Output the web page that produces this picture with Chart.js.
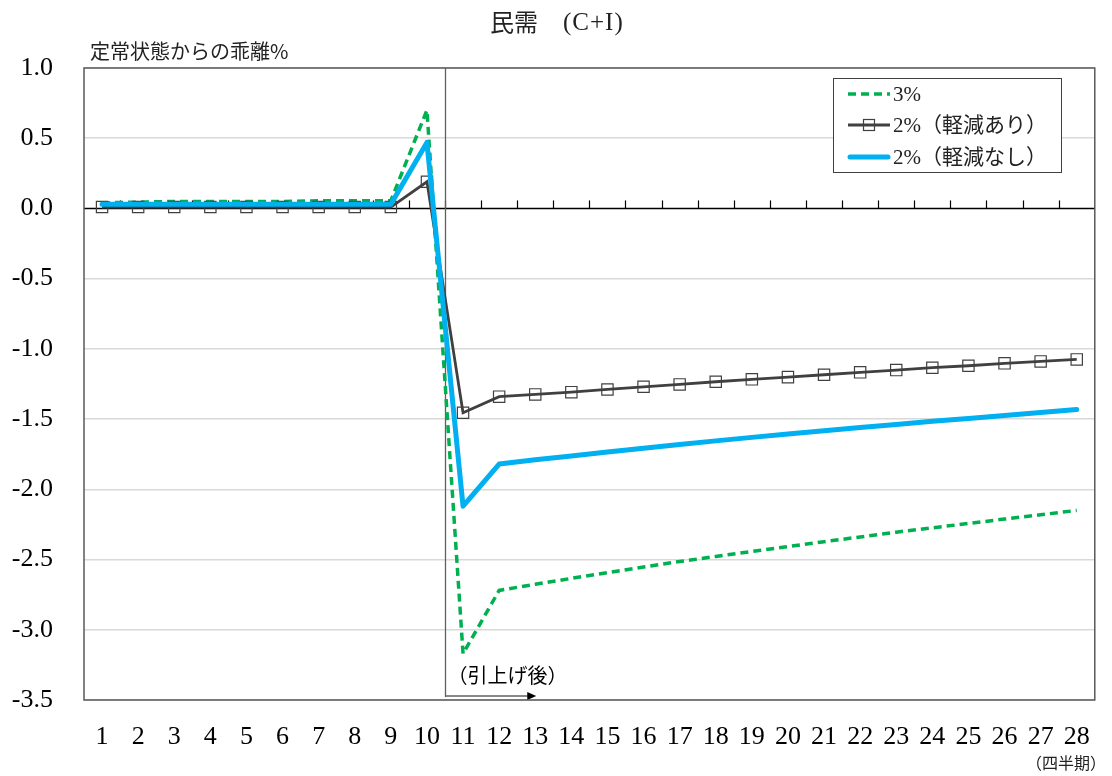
<!DOCTYPE html>
<html>
<head>
<meta charset="utf-8">
<script src="https://cdn.jsdelivr.net/npm/chart.js@4/dist/chart.umd.min.js"></script>
<style>
  html, body { margin: 0; padding: 0; background: #ffffff; }
  #wrap { width: 1112px; height: 776px; position: relative; }
</style>
</head>
<body>
<div id="wrap"><canvas id="c" width="1112" height="776"></canvas></div>
<script>
// 四半期（1〜28）
const quarters = ['1','2','3','4','5','6','7','8','9','10','11','12','13','14',
                  '15','16','17','18','19','20','21','22','23','24','25','26','27','28'];

// 縦軸の範囲と目盛り（定常状態からの乖離%）
const yMin = -3.5;
const yMax = 1.0;
const yStep = 0.5;

// 系列名
const seriesNames = ['3%', '2%（軽減あり）', '2%（軽減なし）'];

// 税率3%引上げ
const rate3 = [0.04, 0.045, 0.05, 0.05, 0.05, 0.05, 0.055, 0.055, 0.055, 0.70,
               -3.17, -2.72, -2.676, -2.634, -2.593, -2.553, -2.514, -2.478, -2.443,
               -2.408, -2.373, -2.339, -2.305, -2.274, -2.243, -2.212, -2.181, -2.150];

// 税率2%引上げ（軽減あり）
const rate2Relief = [0.01, 0.01, 0.01, 0.01, 0.01, 0.01, 0.01, 0.01, 0.01, 0.19,
                     -1.455, -1.34, -1.324, -1.308, -1.289, -1.27, -1.253, -1.234, -1.217,
                     -1.201, -1.184, -1.167, -1.151, -1.134, -1.12, -1.103, -1.089, -1.075];

// 税率2%引上げ（軽減なし）
const rate2NoRelief = [0.03, 0.03, 0.03, 0.03, 0.03, 0.03, 0.03, 0.03, 0.03, 0.47,
                       -2.12, -1.82, -1.79, -1.762, -1.734, -1.707, -1.68, -1.655, -1.63,
                       -1.606, -1.583, -1.56, -1.538, -1.516, -1.495, -1.474, -1.453, -1.432];

const COLORS = { green: '#00B050', dark: '#404040', blue: '#00B0F0', grid: '#D9D9D9', frame: '#595959' };
const SERIF = '"Liberation Serif", "Noto Sans CJK JP", serif';
const GOTHIC = '"Noto Sans CJK JP", sans-serif';

// 軸の補助線・枠・注記・凡例
const decorations = {
  id: 'decorations',
  beforeDatasetsDraw(chart) {
    const { ctx, chartArea: a, scales: { x, y } } = chart;
    const y0 = y.getPixelForValue(0);
    ctx.save();
    // ゼロ線
    ctx.strokeStyle = '#000000';
    ctx.lineWidth = 1.5;
    ctx.beginPath();
    ctx.moveTo(a.left, y0);
    ctx.lineTo(a.right, y0);
    ctx.stroke();
    // 四半期の区切り目盛り
    ctx.lineWidth = 1.2;
    const band = (x.getPixelForValue(1) - x.getPixelForValue(0));
    for (let i = 1; i < quarters.length; i++) {
      const px = Math.round(x.getPixelForValue(i) - band / 2) + 0.5;
      ctx.beginPath();
      ctx.moveTo(px, y0);
      ctx.lineTo(px, y0 - 8);
      ctx.stroke();
    }
    // 引上げ時点の縦線（10期と11期の間）
    const xv = Math.round((x.getPixelForValue(9) + x.getPixelForValue(10)) / 2) + 0.5;
    ctx.strokeStyle = '#606060';
    ctx.lineWidth = 1.3;
    ctx.beginPath();
    ctx.moveTo(xv, a.top);
    ctx.lineTo(xv, a.bottom - 3);
    ctx.stroke();
    // 引上げ後を示す矢印
    const xa = x.getPixelForValue(12) + 1;
    const ya = a.bottom - 4;
    ctx.beginPath();
    ctx.moveTo(xv, ya);
    ctx.lineTo(xa - 8, ya);
    ctx.stroke();
    ctx.fillStyle = '#000000';
    ctx.beginPath();
    ctx.moveTo(xa, ya);
    ctx.lineTo(xa - 9, ya - 4);
    ctx.lineTo(xa - 9, ya + 4);
    ctx.closePath();
    ctx.fill();
    ctx.font = '20px ' + GOTHIC;
    ctx.textAlign = 'left';
    ctx.textBaseline = 'middle';
    ctx.fillText('（引上げ後）', xv + 2, a.bottom - 25);
    ctx.restore();
  },
  afterDatasetsDraw(chart) {
    const { ctx, chartArea: a } = chart;
    ctx.save();
    // プロット領域の枠
    ctx.strokeStyle = COLORS.frame;
    ctx.lineWidth = 1.5;
    ctx.strokeRect(a.left, a.top, a.right - a.left, a.bottom - a.top);

    // 凡例
    const bx = 833.5, by = 78.5, bw = 228, bh = 94;
    ctx.fillStyle = '#ffffff';
    ctx.fillRect(bx, by, bw, bh);
    ctx.strokeStyle = '#404040';
    ctx.lineWidth = 1;
    ctx.strokeRect(bx, by, bw, bh);
    const rows = [94, 125, 157];
    const sx0 = 848, sx1 = 890;
    ctx.lineCap = 'butt';
    // 3%
    ctx.strokeStyle = COLORS.green;
    ctx.lineWidth = 3.5;
    ctx.setLineDash([8, 5]);
    ctx.beginPath(); ctx.moveTo(sx0, rows[0]); ctx.lineTo(sx1, rows[0]); ctx.stroke();
    ctx.setLineDash([]);
    // 2%（軽減あり）
    ctx.strokeStyle = COLORS.dark;
    ctx.lineWidth = 2.8;
    ctx.beginPath(); ctx.moveTo(sx0, rows[1]); ctx.lineTo(sx1, rows[1]); ctx.stroke();
    ctx.lineWidth = 1.2;
    ctx.strokeRect(869 - 5.5, rows[1] - 5.5, 11, 11);
    // 2%（軽減なし）
    ctx.strokeStyle = COLORS.blue;
    ctx.lineWidth = 5;
    ctx.lineCap = 'round';
    ctx.beginPath(); ctx.moveTo(sx0 + 2, rows[2]); ctx.lineTo(sx1 - 2, rows[2]); ctx.stroke();

    ctx.fillStyle = '#222222';
    ctx.font = '21px ' + SERIF;
    ctx.textAlign = 'left';
    ctx.textBaseline = 'middle';
    seriesNames.forEach((n, i) => ctx.fillText(n, 893, rows[i] + 1));
    ctx.restore();
  },
  afterDraw(chart) {
    const { ctx } = chart;
    ctx.save();
    ctx.fillStyle = '#222222';
    ctx.textBaseline = 'middle';
    // タイトル
    ctx.textAlign = 'left';
    ctx.font = '24px ' + GOTHIC;
    ctx.fillText('民需', 490, 22);
    ctx.font = '25px ' + SERIF;
    ctx.letterSpacing = '1px';
    ctx.fillText('(C+I)', 563, 23);
    ctx.letterSpacing = '0px';
    // 縦軸の単位
    ctx.font = '20px ' + GOTHIC;
    ctx.fillText('定常状態からの乖離%', 90, 51);
    // 横軸の単位
    ctx.font = '16px ' + GOTHIC;
    ctx.textAlign = 'right';
    ctx.fillText('（四半期）', 1106, 763);
    ctx.restore();
  }
};

new Chart(document.getElementById('c'), {
  type: 'line',
  data: {
    labels: quarters,
    datasets: [
      {
        label: seriesNames[0], data: rate3, order: 2,
        borderColor: COLORS.green, borderWidth: 3.5, borderDash: [8, 5],
        pointRadius: 0, pointHoverRadius: 0, tension: 0, fill: false
      },
      {
        label: seriesNames[1], data: rate2Relief, order: 1,
        borderColor: COLORS.dark, borderWidth: 2.8,
        pointStyle: 'rect', pointRadius: 8, pointHoverRadius: 8,
        pointBorderColor: COLORS.dark, pointBorderWidth: 1.2,
        pointBackgroundColor: 'rgba(0,0,0,0)', tension: 0, fill: false
      },
      {
        label: seriesNames[2], data: rate2NoRelief, order: 0,
        borderColor: COLORS.blue, borderWidth: 5,
        borderCapStyle: 'round', borderJoinStyle: 'round',
        pointRadius: 0, pointHoverRadius: 0, tension: 0, fill: false
      }
    ]
  },
  options: {
    responsive: false,
    animation: false,
    devicePixelRatio: 1,
    layout: { padding: { top: 68, right: 15, left: 0, bottom: 0 } },
    plugins: { legend: { display: false }, title: { display: false }, tooltip: { enabled: false } },
    scales: {
      x: {
        type: 'category',
        offset: true,
        grid: { display: false, drawTicks: false },
        border: { display: false },
        ticks: { color: '#000000', font: { family: SERIF, size: 26 }, padding: 22, maxRotation: 0, autoSkip: false },
        afterFit(s) { s.height = 76; }
      },
      y: {
        min: yMin, max: yMax,
        grid: {
          drawTicks: false,
          color: (c) => (c.tick && c.tick.value === 0) ? 'rgba(0,0,0,0)' : COLORS.grid,
          lineWidth: 1.5
        },
        border: { display: false },
        ticks: {
          stepSize: yStep, color: '#000000', padding: 31,
          font: { family: SERIF, size: 26 },
          callback: (v) => Number(v).toFixed(1)
        },
        afterFit(s) { s.width = 84; }
      }
    }
  },
  plugins: [decorations]
});
</script>
</body>
</html>
